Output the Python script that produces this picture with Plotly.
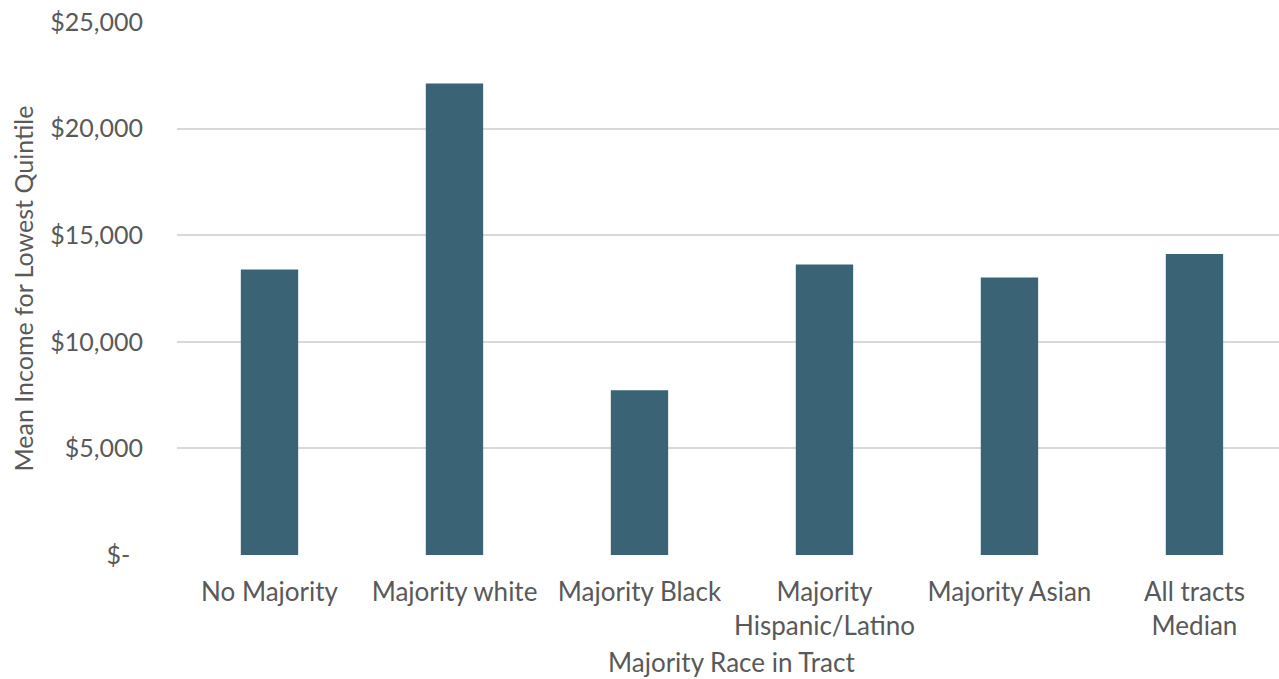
import plotly.graph_objects as go

categories = ["No Majority", "Majority white", "Majority Black",
              "Majority<br>Hispanic/Latino", "Majority Asian", "All tracts<br>Median"]
values = [13390, 22110, 7730, 13630, 13020, 14120]
y_tickvals = [0, 5000, 10000, 15000, 20000, 25000]
y_ticktext = ["$-\u00a0\u00a0", "$5,000", "$10,000", "$15,000", "$20,000", "$25,000"]

FONT = "Lato"
TXT = "#595959"

fig = go.Figure(go.Bar(
    x=list(range(len(categories))), y=values,
    marker=dict(color="#3A6376", line=dict(width=0)),
    width=0.31,
))

fig.update_layout(
    width=1279, height=679,
    margin=dict(l=177, r=0, t=22, b=124),
    plot_bgcolor="white", paper_bgcolor="white",
    showlegend=False,
    font=dict(family=FONT, color=TXT, size=25),
    xaxis=dict(
        range=[-0.5, 5.457],
        tickvals=list(range(len(categories))), ticktext=categories,
        showgrid=False, zeroline=False, showline=False,
        ticks="", ticklabelstandoff=19,
        tickfont=dict(family=FONT, size=26, color=TXT),
    ),
    yaxis=dict(
        range=[0, 25000],
        tickvals=y_tickvals, ticktext=y_ticktext,
        showgrid=True, gridcolor="#D9D9D9", gridwidth=1.5,
        zeroline=False, showline=False,
        ticks="", ticklabelstandoff=33,
        tickfont=dict(family=FONT, size=25, color=TXT),
    ),
    annotations=[
        dict(text="Mean Income for Lowest Quintile", textangle=-90,
             xref="paper", yref="paper", x=-(177 - 22) / 1102, y=0.5,
             xanchor="center", yanchor="middle", showarrow=False,
             font=dict(family=FONT, size=25, color=TXT)),
        dict(text="Majority Race in Tract",
             xref="x", yref="paper", x=2.5, y=-(680 - 555) / 533,
             xanchor="center", yanchor="bottom", showarrow=False,
             font=dict(family=FONT, size=26, color=TXT)),
    ],
)

fig.write_html("out.html")
